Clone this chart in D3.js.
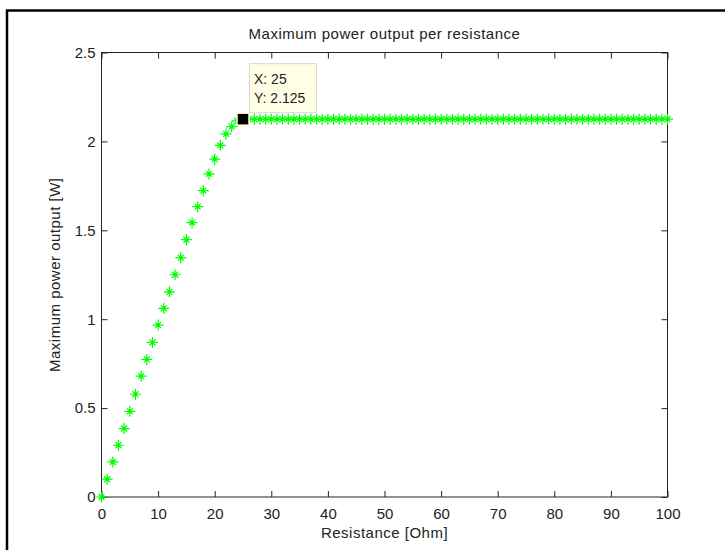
<!DOCTYPE html>
<html>
<head>
<meta charset="utf-8">
<script src="https://cdn.jsdelivr.net/npm/d3@7"></script>
<style>
    body { margin: 0; background: #fff; }
    text { font-family: "Liberation Sans", Arial, sans-serif; fill: #222; }
</style>
</head>
<body>
<svg></svg>
<script>
// resistance [Ohm] and max power [W]
const resistance = [
    0, 1, 2, 3, 4, 5, 6, 7, 8, 9,
    10, 11, 12, 13, 14, 15, 16, 17, 18, 19,
    20, 21, 22, 23, 24, 25, 26, 27, 28, 29,
    30, 31, 32, 33, 34, 35, 36, 37, 38, 39,
    40, 41, 42, 43, 44, 45, 46, 47, 48, 49,
    50, 51, 52, 53, 54, 55, 56, 57, 58, 59,
    60, 61, 62, 63, 64, 65, 66, 67, 68, 69,
    70, 71, 72, 73, 74, 75, 76, 77, 78, 79,
    80, 81, 82, 83, 84, 85, 86, 87, 88, 89,
    90, 91, 92, 93, 94, 95, 96, 97, 98, 99,
    100
];
const power = [
    0, 0.10, 0.197, 0.291, 0.385, 0.482, 0.578, 0.68, 0.774, 0.869,
    0.967, 1.061, 1.154, 1.25, 1.346, 1.447, 1.543, 1.633, 1.723, 1.817,
    1.90, 1.978, 2.042, 2.083, 2.115, 2.125, 2.125, 2.125, 2.125, 2.125,
    2.125, 2.125, 2.125, 2.125, 2.125, 2.125, 2.125, 2.125, 2.125, 2.125,
    2.125, 2.125, 2.125, 2.125, 2.125, 2.125, 2.125, 2.125, 2.125, 2.125,
    2.125, 2.125, 2.125, 2.125, 2.125, 2.125, 2.125, 2.125, 2.125, 2.125,
    2.125, 2.125, 2.125, 2.125, 2.125, 2.125, 2.125, 2.125, 2.125, 2.125,
    2.125, 2.125, 2.125, 2.125, 2.125, 2.125, 2.125, 2.125, 2.125, 2.125,
    2.125, 2.125, 2.125, 2.125, 2.125, 2.125, 2.125, 2.125, 2.125, 2.125,
    2.125, 2.125, 2.125, 2.125, 2.125, 2.125, 2.125, 2.125, 2.125, 2.125,
    2.125
];
const xTicks = [0, 10, 20, 30, 40, 50, 60, 70, 80, 90, 100];
const yTicks = [0, 0.5, 1, 1.5, 2, 2.5];
const tipPoint = { x: 25, y: 2.125 };

const svgWidth = 725, svgHeight = 550;
const plot = { left: 101.5, right: 667.5, top: 52.5, bottom: 497 };

const svg = d3.select("svg")
    .attr("width", svgWidth)
    .attr("height", svgHeight);

// figure frame
svg.append("rect")
    .attr("x", 7)
    .attr("y", 10.5)
    .attr("width", 740)
    .attr("height", 560)
    .attr("fill", "none")
    .attr("stroke", "#000")
    .attr("stroke-width", 2.5);

const x = d3.scaleLinear().domain([0, 100]).range([plot.left, plot.right]);
const y = d3.scaleLinear().domain([0, 2.5]).range([plot.bottom, plot.top]);

const fmt = d => String(d);
const tickLen = 6;

// bottom axis + labels
svg.append("g")
    .attr("transform", "translate(0," + plot.bottom + ")")
    .call(d3.axisBottom(x).tickValues(xTicks).tickSize(-tickLen).tickPadding(11).tickFormat(fmt))
    .call(g => g.select(".domain").remove())
    .call(g => g.selectAll("line").attr("stroke", "#222"))
    .call(g => g.selectAll("text").attr("font-size", 15).attr("fill", "#222")
        .attr("font-family", "Liberation Sans, Arial, sans-serif"));

// top ticks
svg.append("g")
    .attr("transform", "translate(0," + plot.top + ")")
    .call(d3.axisTop(x).tickValues(xTicks).tickSize(-tickLen).tickFormat(""))
    .call(g => g.select(".domain").remove())
    .call(g => g.selectAll("line").attr("stroke", "#222"));

// left axis + labels
svg.append("g")
    .attr("transform", "translate(" + plot.left + ",0)")
    .call(d3.axisLeft(y).tickValues(yTicks).tickSize(-tickLen).tickPadding(6).tickFormat(fmt))
    .call(g => g.select(".domain").remove())
    .call(g => g.selectAll("line").attr("stroke", "#222"))
    .call(g => g.selectAll("text").attr("font-size", 15).attr("fill", "#222")
        .attr("font-family", "Liberation Sans, Arial, sans-serif"));

// right ticks
svg.append("g")
    .attr("transform", "translate(" + plot.right + ",0)")
    .call(d3.axisRight(y).tickValues(yTicks).tickSize(-tickLen).tickFormat(""))
    .call(g => g.select(".domain").remove())
    .call(g => g.selectAll("line").attr("stroke", "#222"));

// axes box
svg.append("rect")
    .attr("x", plot.left)
    .attr("y", plot.top)
    .attr("width", plot.right - plot.left)
    .attr("height", plot.bottom - plot.top)
    .attr("fill", "none")
    .attr("stroke", "#222")
    .attr("stroke-width", 1);

// title and axis labels
svg.append("text")
    .attr("x", (plot.left + plot.right) / 2)
    .attr("y", 39)
    .attr("text-anchor", "middle")
    .attr("font-size", 15)
    .style("letter-spacing", "0.5px")
    .text("Maximum power output per resistance");

svg.append("text")
    .attr("x", (plot.left + plot.right) / 2)
    .attr("y", 538)
    .attr("text-anchor", "middle")
    .attr("font-size", 15)
    .style("letter-spacing", "0.5px")
    .text("Resistance [Ohm]");

svg.append("text")
    .attr("transform", "translate(60," + (plot.top + plot.bottom) / 2 + ") rotate(-90)")
    .attr("text-anchor", "middle")
    .attr("font-size", 15)
    .style("letter-spacing", "0.5px")
    .text("Maximum power output [W]");

// '*' markers (plus arms longer than the diagonals)
const star = "M-5.5,0H5.5M0,-5.5V5.5M-3,-3L3,3M-3,3L3,-3";
const points = resistance.map((r, i) => ({ r: r, p: power[i] }));

const marks = svg.append("g")
    .selectAll("g")
    .data(points)
    .join("g")
    .attr("transform", d => "translate(" + x(d.r) + "," + y(d.p) + ")");

marks.append("path")
    .attr("d", star)
    .attr("stroke", "#00ff00")
    .attr("stroke-width", 1.2)
    .attr("fill", "none");

marks.append("circle")
    .attr("r", 1.8)
    .attr("fill", "#00ff00");

// data tip
const tx = x(tipPoint.x), ty = y(tipPoint.y);

svg.append("rect")
    .attr("x", tx - 6)
    .attr("y", ty - 6)
    .attr("width", 12)
    .attr("height", 12)
    .attr("fill", "#000")
    .attr("stroke", "#ffffcc")
    .attr("stroke-width", 1.5);

const tip = svg.append("g")
    .attr("transform", "translate(" + (tx + 6) + "," + (ty - 56) + ")");

tip.append("rect")
    .attr("x", 0.5)
    .attr("y", 0.5)
    .attr("width", 67)
    .attr("height", 49)
    .attr("fill", "#ffffe6")
    .attr("stroke", "#d8d8c8");

tip.append("text")
    .attr("x", 5)
    .attr("y", 21)
    .attr("font-size", 14)
    .text("X: " + tipPoint.x);

tip.append("text")
    .attr("x", 5)
    .attr("y", 40)
    .attr("font-size", 14)
    .text("Y: " + tipPoint.y);
</script>
</body>
</html>
